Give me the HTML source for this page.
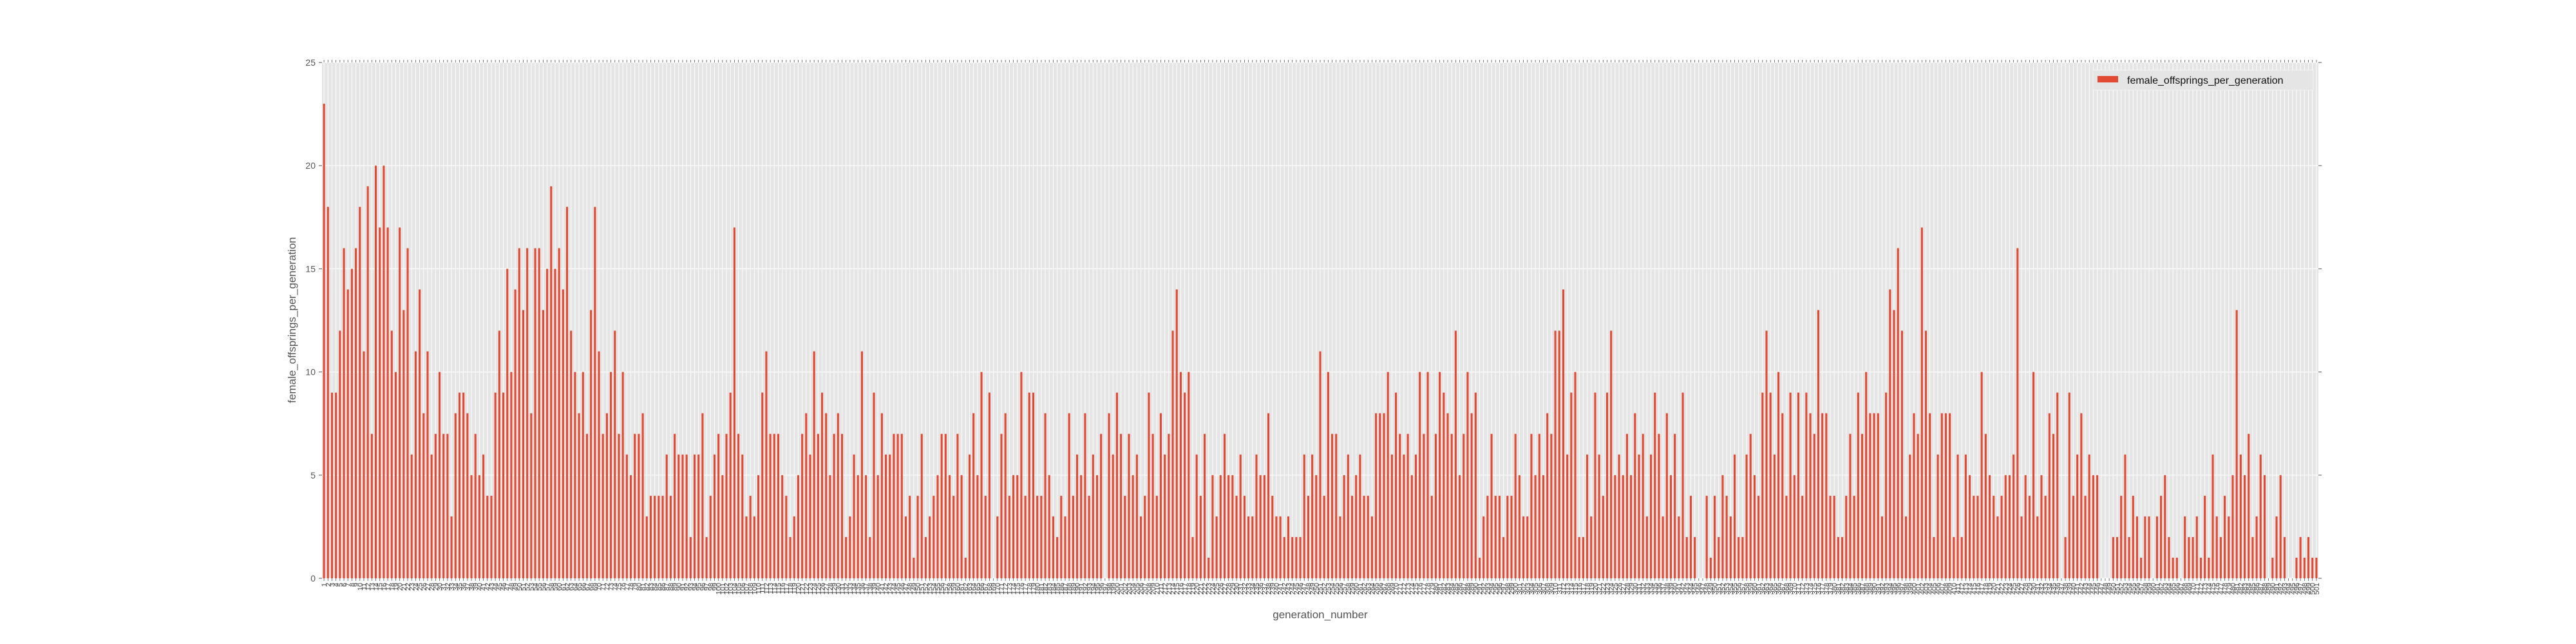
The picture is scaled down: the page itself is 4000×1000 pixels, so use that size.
<!DOCTYPE html>
<html>
<head>
<meta charset="utf-8">
<style>
  html,body{margin:0;padding:0;background:#fff;}
  svg{display:block;}
  text{font-family:"Liberation Sans","DejaVu Sans",sans-serif;}
</style>
</head>
<body>
<svg id="chart" width="4000" height="1000" viewBox="0 0 4000 1000" xmlns="http://www.w3.org/2000/svg">
  <rect x="500" y="97" width="3100" height="801" fill="#E5E5E5"/>
  <g id="grid"></g>
  <g id="bars"></g>
  <g id="ticks"></g>
  <g id="ylabels"></g>
  <g id="xlabels"></g>
  <text x="2050" y="960" font-size="17" fill="#555" text-anchor="middle">generation_number</text>
  <text x="0" y="0" font-size="17" fill="#555" text-anchor="middle" transform="translate(459,497) rotate(-90)">female_offsprings_per_generation</text>
  <g>
    <rect x="3250" y="109" width="342" height="31" fill="#E5E5E5" stroke="#f4f4f4" stroke-width="1"/>
    <rect x="3257" y="118" width="32" height="10" fill="#E24A33"/>
    <text x="3303" y="130" font-size="16" fill="#111">female_offsprings_per_generation</text>
  </g>
</svg>
<script>
const values = [
23,18,9,9,12,16,14,15,16,18,11,19,7,20,17,20,17,12,10,17,13,16,6,11,14,8,11,6,7,10,7,7,3,8,9,9,8,5,7,5,6,4,4,9,12,
9,15,10,14,16,13,16,8,16,16,13,15,19,15,16,14,18,12,10,8,10,7,13,18,11,7,8,10,12,7,10,6,5,7,7,8,3,4,4,4,4,6,4,7,6,6,6,2,6,6,8,2,4,6,7,5,7,9,17,7,6,3,4,3,
5,9,11,7,7,7,5,4,2,3,5,7,8,6,11,7,9,8,5,7,8,7,2,3,6,5,11,5,2,9,5,8,6,6,7,7,7,3,4,1,4,7,2,3,4,5,7,7,5,4,7,5,1,6,8,5,10,4,9,0,3,7,8,4,
5,5,10,4,9,9,4,4,8,5,3,2,4,3,8,4,6,5,8,4,6,5,7,0,8,6,9,7,4,7,5,6,3,4,9,7,4,8,6,7,12,14,10,9,10,2,6,4,7,1,5,3,5,7,5,5,4,6,4,3,3,6,5,5,
8,4,3,3,2,3,2,2,2,6,4,6,5,11,4,10,7,7,3,5,6,4,5,6,4,4,3,8,8,8,10,6,9,7,6,7,5,6,10,7,10,4,7,10,9,8,7,12,5,7,10,8,9,1,3,4,7,4,4,2,4,4,7,5,
3,3,7,5,7,5,8,7,12,12,14,6,9,10,2,2,6,3,9,6,4,9,12,5,6,5,7,5,8,6,7,3,6,9,7,3,8,5,7,3,9,2,4,2,0,0,4,1,4,2,5,4,3,6,2,2,6,7,5,4,9,12,9,6,
10,8,4,9,5,9,4,9,8,7,13,8,8,4,4,2,2,4,7,4,9,7,10,8,8,8,3,9,14,13,16,12,3,6,8,7,17,12,8,2,6,8,8,8,2,6,2,6,5,4,4,10,7,5,4,3,4,5,5,6,16,3,5,4,
10,3,5,4,8,7,9,0,2,9,4,6,8,4,6,5,5,0,0,0,2,2,4,6,2,4,3,1,3,3,0,3,4,5,2,1,1,0,3,2,2,3,1,4,1,6,3,2,4,3,5,13,6,5,7,2,3,6,5,0,1,3,5,2,
0,0,1,2,1,2,1,1
];
const categories = values.map((v, i) => String(i + 1));
const yTicks = [0, 5, 10, 15, 20, 25];

const NS = "http://www.w3.org/2000/svg";
const X0 = 500, X1 = 3600, Y0 = 898, Y1 = 97, YMAX = 25;
const band = (X1 - X0) / categories.length;
function xCenter(i) { return X0 + (i + 0.5) * band; }
function yScale(v) { return Y0 - (v / YMAX) * (Y0 - Y1); }
function mk(tag, attrs) {
  const el = document.createElementNS(NS, tag);
  for (const k in attrs) el.setAttribute(k, attrs[k]);
  return el;
}
const grid = document.getElementById('grid');
const bars = document.getElementById('bars');
const ticks = document.getElementById('ticks');
const ylabels = document.getElementById('ylabels');
const xlabels = document.getElementById('xlabels');

yTicks.forEach(t => {
  const y = yScale(t);
  const gl = mk('line', {x1: X0, x2: X1, y1: y, y2: y, stroke: '#ffffff', 'stroke-width': 1.2});
  
  
  grid.appendChild(gl);
  const tl = mk('line', {x1: X0 - 5, x2: X0, y1: y, y2: y, stroke: '#555', 'stroke-width': 1});
  
  
  ticks.appendChild(tl);
  const tr = mk('line', {x1: X1, x2: X1 + 5, y1: y, y2: y, stroke: '#555', 'stroke-width': 1});
  
  
  ticks.appendChild(tr);
  const lab = mk('text', {x: X0 - 10, y: y + 5, 'font-size': 14, fill: '#555', 'text-anchor': 'end'});
  lab.textContent = String(t);
  
  
  ylabels.appendChild(lab);
});

categories.forEach((c, i) => {
  const x = xCenter(i);
  const gl = mk('line', {x1: x, x2: x, y1: Y1, y2: Y0, stroke: '#ffffff', 'stroke-width': 1});
  
  
  grid.appendChild(gl);
  const tb = mk('line', {x1: x, x2: x, y1: Y0, y2: Y0 + 4, stroke: '#555', 'stroke-width': 0.8});
  
  
  ticks.appendChild(tb);
  const tt = mk('line', {x1: x, x2: x, y1: Y1 - 4, y2: Y1, stroke: '#555', 'stroke-width': 0.8});
  
  
  ticks.appendChild(tt);
  const lab = mk('text', {x: 0, y: 0, 'font-size': 11, fill: '#444', 'text-anchor': 'end', transform: 'translate(' + (x + 4) + ',' + (Y0 + 7) + ') rotate(-90)'});
  lab.textContent = c;
  
  
  xlabels.appendChild(lab);
});

values.forEach((v, i) => {
  const w = band * 0.5;
  const y = yScale(v);
  const r = mk('rect', {x: xCenter(i) - w / 2, y: y, width: w, height: Math.max(0, Y0 - y), fill: '#E24A33'});
  
  
  bars.appendChild(r);
});
</script>
</body>
</html>
